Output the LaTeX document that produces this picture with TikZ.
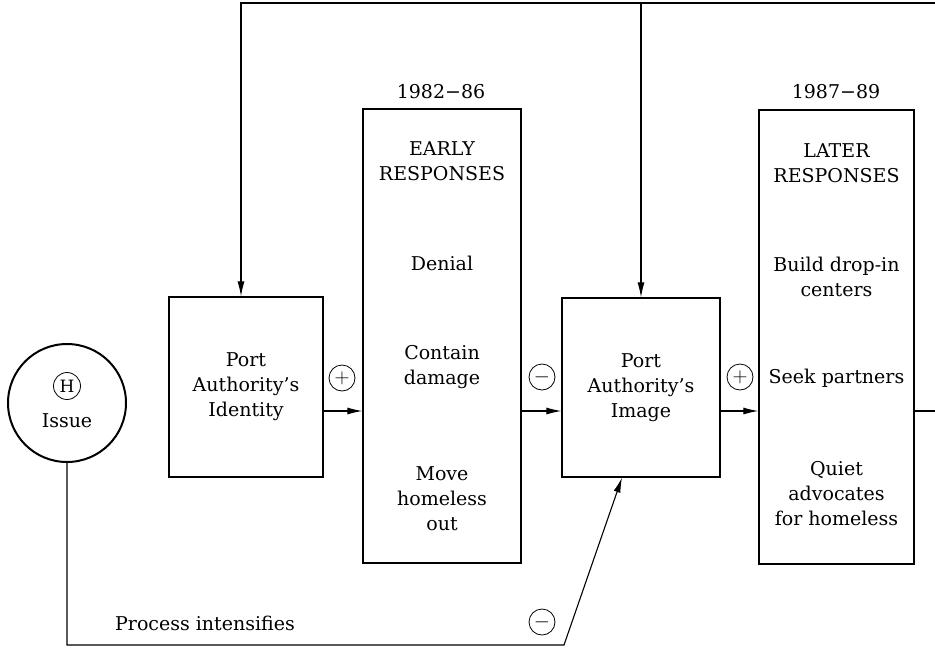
\documentclass[tikz,border=0pt]{standalone}
\usepackage{fontspec}
\setmainfont{DejaVu Serif}
\usetikzlibrary{arrows.meta}
\begin{document}
\begin{tikzpicture}[x=1pt,y=-1pt,
  font=\fontsize{19}{25}\selectfont,
  box/.style={draw,line width=1.2pt,inner sep=0pt,align=center},
  conn/.style={line width=1.1pt},
  arr/.style={conn,-{Latex[length=15pt,width=7pt]}},
  sign/.style={circle,draw,line width=0.8pt,minimum size=26pt,inner sep=0pt,font=\fontsize{20}{20}\selectfont},
  lbl/.style={align=center,inner sep=0pt}]
\useasboundingbox (0,0) rectangle (935,649);

% boxes
\node[box,minimum width=154pt,minimum height=180pt] (id) at (246,387) {Port\\Authority's\\Identity};
\node[box,minimum width=158pt,minimum height=454pt] (early) at (442,336) {};
\node[box,minimum width=158pt,minimum height=179pt] (img) at (641,387.5) {Port\\Authority's\\Image};
\node[box,minimum width=155pt,minimum height=454pt] (later) at (836.5,337) {};
\node[circle,draw,line width=2pt,minimum size=118pt,inner sep=0pt] (issue) at (67,403) {};

% texts inside issue
\node[circle,draw,line width=0.8pt,minimum size=27pt,inner sep=0pt,font=\fontsize{17}{17}\selectfont] (h) at (67,386) {H};
\node[lbl] (issuetxt) at (67,421) {Issue};

% early responses
\node[lbl] (e1) at (442,161) {EARLY\\RESPONSES};
\node[lbl] (e2) at (442,263) {Denial};
\node[lbl] (e3) at (442,367) {Contain\\damage};
\node[lbl] (e4) at (442,499) {Move\\homeless\\out};

% later responses
\node[lbl] (l1) at (836.5,163) {LATER\\RESPONSES};
\node[lbl] (l2) at (836.5,277) {Build drop-in\\centers};
\node[lbl] (l3) at (836.5,378) {Seek partners};
\node[lbl] (l4) at (836.5,494) {Quiet\\advocates\\for homeless};

% period labels
\node[lbl] (p1) at (441,92) {1982−86};
\node[lbl] (p2) at (836,92) {1987−89};

% signs
\node[sign] (s1) at (342,378) {$+$};
\node[sign] (s2) at (542,377) {$-$};
\node[sign] (s3) at (740,377) {$+$};
\node[sign] (s4) at (542,622) {$-$};

\node[lbl] (proc) at (205,623) {Process intensifies};

% horizontal chain arrows
\coordinate (a1) at (323,411);
\draw[arr] (a1 -| id.east) -- (a1 -| early.west);
\draw[arr] (a1 -| early.east) -- (a1 -| img.west);
\draw[arr] (a1 -| img.east) -- (a1 -| later.west);
\coordinate (rr) at (935,411);
\draw[conn] (rr -| later.east) -- (rr);

% top feedback
\coordinate (tl) at (241,3);
\coordinate (tr) at (935,3);
\draw[arr] (tr) -- (tl) -- (tl |- id.north);
\draw[arr] (tl -| img.north) -- (img.north);

% bottom process line
\coordinate (bl) at (67,645);
\coordinate (br) at (564,645);
\draw[arr] (issue.south) -- (bl) -- (br) -- ([xshift=-19pt]img.south);
\end{tikzpicture}
\end{document}
